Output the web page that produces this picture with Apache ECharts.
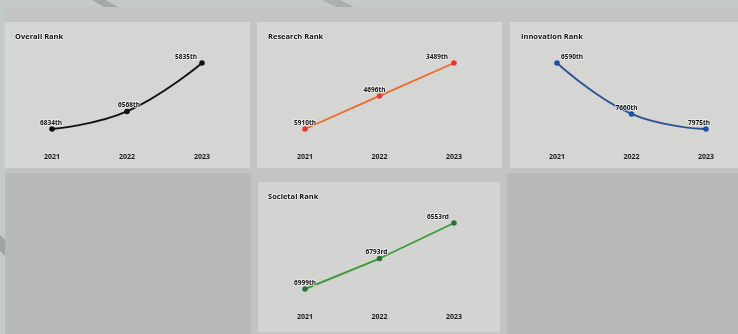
<!DOCTYPE html>
<html>
<head>
<meta charset="utf-8">
<script src="https://cdn.jsdelivr.net/npm/echarts@6/dist/echarts.min.js"></script>
<style>
html,body{margin:0;padding:0;background:#c3cac7;}
#c{width:738px;height:334px;}
</style>
</head>
<body>
<div id="c"></div>
<script>
// ---- data ----
const years = ['2021', '2022', '2023'];
const titles = ['Overall Rank', 'Research Rank', 'Innovation Rank', 'Societal Rank'];
const overallRank = [6834, 6568, 5835];
const researchRank = [5910, 4696, 3489];
const innovationRank = [6590, 7660, 7975];
const societalRank = [6999, 6793, 6553];

function ordinal(n) {
  const s = n % 100;
  if (s >= 11 && s <= 13) return n + 'th';
  switch (n % 10) {
    case 1: return n + 'st';
    case 2: return n + 'nd';
    case 3: return n + 'rd';
    default: return n + 'th';
  }
}

const chart = echarts.init(document.getElementById('c'), null, {renderer: 'canvas'});

const panels = [
  {vals: overallRank, grid: {left: 52, top: 63, width: 150, height: 66}, line: '#111111', marker: '#111111', smooth: true,
   offs: [[-1, 0], [2, 0], [-16, 0]], title: [15, 33]},
  {vals: researchRank, grid: {left: 305, top: 63, width: 149, height: 66}, line: '#ef6b2a', marker: '#e53935', smooth: false,
   offs: [[0, 0], [-5, 0], [-17, 0]], title: [268, 33]},
  {vals: innovationRank, grid: {left: 557, top: 63, width: 149, height: 66}, line: '#2d5594', marker: '#1e4ea8', smooth: true,
   offs: [[15, 0], [-5, 0], [-7, 0]], title: [521, 33]},
  {vals: societalRank, grid: {left: 305, top: 223, width: 149, height: 66}, line: '#3f9a3f', marker: '#2f6e3f', smooth: false,
   offs: [[0, 0], [-3, 0], [-16, 0]], title: [268, 193]}
];

const grids = [], xAxes = [], yAxes = [], series = [], titleOpts = [];
panels.forEach((p, i) => {
  grids.push(p.grid);
  xAxes.push({
    type: 'category', gridIndex: i, data: years, boundaryGap: false,
    axisLine: {show: false}, axisTick: {show: false}, splitLine: {show: false},
    axisLabel: {margin: 24, fontSize: 7, fontWeight: 'bold', color: '#1b1b1b', fontFamily: 'Open Sans'}
  });
  yAxes.push({
    type: 'value', gridIndex: i, inverse: true,
    min: Math.min(...p.vals), max: Math.max(...p.vals),
    show: false, splitLine: {show: false}
  });
  series.push({
    type: 'line', xAxisIndex: i, yAxisIndex: i, smooth: p.smooth ? 0.45 : false,
    symbol: 'circle', symbolSize: 5.5,
    lineStyle: {color: p.line, width: 1.9},
    itemStyle: {color: p.marker},
    data: p.vals.map((v, k) => ({
      value: v,
      label: {offset: p.offs[k]}
    })),
    label: {
      show: true, position: 'top', distance: 0,
      formatter: (d) => ordinal(d.value),
      fontSize: 6.5, fontWeight: 'bold', color: '#111', fontFamily: 'Open Sans',
      textBorderColor: 'rgba(245,245,245,0.8)', textBorderWidth: 1.5
    },
    animation: false
  });
  titleOpts.push({
    text: titles[i], left: p.title[0], top: p.title[1], padding: 0,
    textStyle: {fontSize: 7.5, fontWeight: 'bold', color: '#141414', fontFamily: 'Open Sans',
      textBorderColor: 'rgba(245,245,245,0.7)', textBorderWidth: 1.5}
  });
});

const bg = [
  {type: 'rect', shape: {x: 5, y: 7, width: 733, height: 327}, style: {fill: '#c4c4c3'}, z: -10},
  {type: 'rect', shape: {x: 5, y: 173, width: 246, height: 161}, style: {fill: '#b9b9b9'}, z: -9},
  {type: 'rect', shape: {x: 507, y: 173, width: 231, height: 161}, style: {fill: '#b9b9b9'}, z: -9},
  {type: 'rect', shape: {x: 5, y: 22, width: 245, height: 146}, style: {fill: '#d5d5d3'}, z: -8},
  {type: 'rect', shape: {x: 257, y: 22, width: 245, height: 146}, style: {fill: '#d5d5d3'}, z: -8},
  {type: 'rect', shape: {x: 510, y: 22, width: 228, height: 146}, style: {fill: '#d5d5d3'}, z: -8},
  {type: 'rect', shape: {x: 258, y: 182, width: 242, height: 150}, style: {fill: '#d3d4d1'}, z: -8},
  {type: 'polygon', shape: {points: [[92, 0], [106, 0], [118, 7], [104, 7]]}, style: {fill: '#a3aba7'}, z: -9},
  {type: 'polygon', shape: {points: [[322, 0], [340, 0], [354, 7], [336, 7]]}, style: {fill: '#a9b0ad'}, z: -9},
  {type: 'polygon', shape: {points: [[0, 235], [5, 240], [5, 256], [0, 251]]}, style: {fill: '#9ea5a2'}, z: -9}
];

chart.setOption({
  backgroundColor: '#c3cac7',
  animation: false,
  title: titleOpts,
  grid: grids,
  xAxis: xAxes,
  yAxis: yAxes,
  series: series,
  graphic: {elements: bg}
});
</script>
</body>
</html>
